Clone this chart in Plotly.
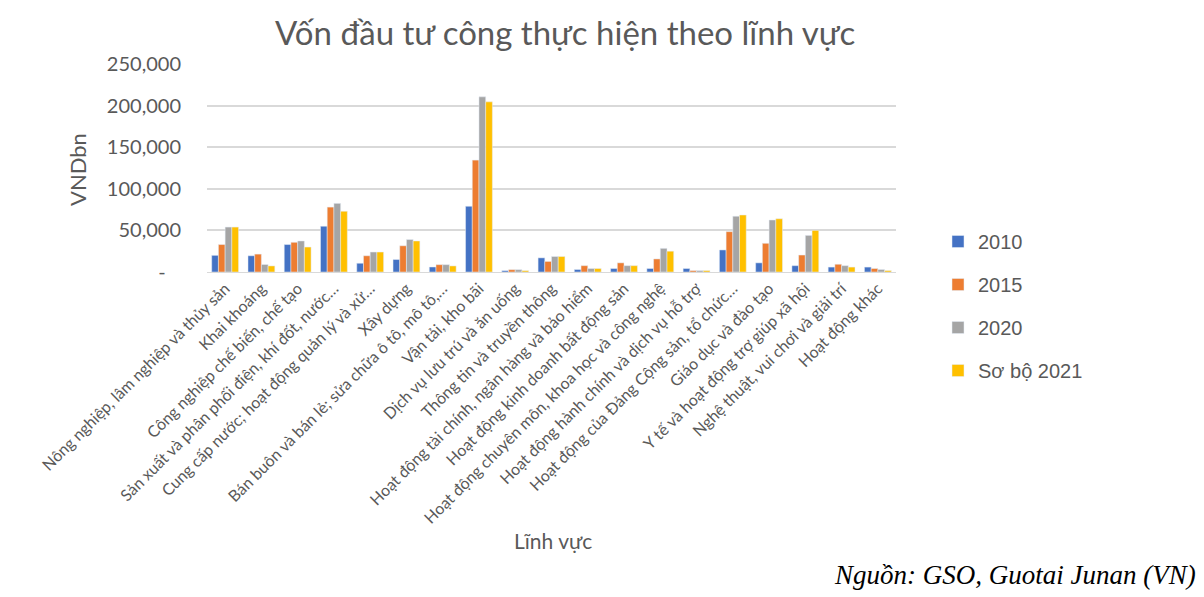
import plotly.graph_objects as go

# Lĩnh vực (19), giá trị VND tỷ
categories = [
    "Nông nghiệp, lâm nghiệp và thủy sản",
    "Khai khoáng",
    "Công nghiệp chế biến, chế tạo",
    "Sản xuất và phân phối điện, khí đốt, nước…",
    "Cung cấp nước; hoạt động quản lý và xử…",
    "Xây dựng",
    "Bán buôn và bán lẻ; sửa chữa ô tô, mô tô,…",
    "Vận tải, kho bãi",
    "Dịch vụ lưu trú và ăn uống",
    "Thông tin và truyền thông",
    "Hoạt động tài chính, ngân hàng và bảo hiểm",
    "Hoạt động kinh doanh bất động sản",
    "Hoạt động chuyên môn, khoa học và công nghệ",
    "Hoạt động hành chính và dịch vụ hỗ trợ",
    "Hoạt động của Đảng Cộng sản, tổ chức…",
    "Giáo dục và đào tạo",
    "Y tế và hoạt động trợ giúp xã hội",
    "Nghệ thuật, vui chơi và giải trí",
    "Hoạt động khác",
]

v2010 = [20000, 19500, 33000, 55000, 10500, 15000, 6000, 79000, 1600, 17000,
         3000, 4200, 4200, 4200, 26500, 11000, 7600, 5900, 5900]
v2015 = [33000, 21500, 35700, 78000, 19500, 31500, 8800, 134500, 2800, 12700,
         7600, 11000, 15700, 1700, 48500, 34500, 20400, 9300, 4200]
v2020 = [54000, 9000, 37300, 82500, 24000, 39000, 8800, 210500, 2800, 18600,
         4200, 7600, 28400, 1700, 67000, 62500, 44000, 7600, 3000]
v2021 = [54000, 7300, 30000, 73000, 24000, 37300, 7300, 204500, 1600, 18600,
         4200, 7600, 25000, 1700, 68500, 64000, 50000, 5900, 1700]

series = [
    ("2010", v2010, "#4472C4"),
    ("2015", v2015, "#ED7D31"),
    ("2020", v2020, "#A5A5A5"),
    ("Sơ bộ 2021", v2021, "#FFC000"),
]

y_ticks = [0, 50000, 100000, 150000, 200000, 250000]
y_ticktext = ["-\u00a0\u00a0\u00a0", "50,000", "100,000", "150,000", "200,000", "250,000"]

# page body adds an 8px offset, so the plot box is placed 8px up/left
L, R, T, B = 199, 888, 56, 264
W, H = R - L, B - T


def px(x, y):
    return (x - 8 - L) / W, (B - (y - 8)) / H


fig = go.Figure()
for name, vals, col in series:
    fig.add_trace(go.Bar(x=categories, y=vals, name=name, marker_color=col,
                         legendgroup=name))

grey = "#595959"
lx, ly = px(938, 222)
fig.update_layout(
    width=1204, height=597,
    margin=dict(l=L, r=1204 - R, t=T, b=597 - B, autoexpand=False),
    paper_bgcolor="white", plot_bgcolor="white",
    barmode="group", bargap=0.26, bargroupgap=0,
    font=dict(family="Lato", color=grey),
    legend=dict(x=lx, xanchor="left", y=ly, yanchor="top",
                font=dict(size=20, color=grey, family="Liberation Sans"),
                tracegroupgap=14, bgcolor="rgba(0,0,0,0)"),
    showlegend=True,
)
fig.update_xaxes(
    tickangle=-45, tickfont=dict(size=16, color=grey),
    showline=True, linecolor="#D9D9D9", linewidth=1,
    showgrid=False, ticks="", automargin=False,
)
fig.update_yaxes(
    range=[0, 250000], tickvals=y_ticks, ticktext=y_ticktext,
    tickfont=dict(size=20, color=grey),
    showgrid=True, gridcolor="#D9D9D9", gridwidth=1.5,
    zeroline=False, ticks="", ticklabelstandoff=25, automargin=False,
)

tx, ty = px(565, 32)
fig.add_annotation(text="Vốn đầu tư công thực hiện theo lĩnh vực",
                   xref="paper", yref="paper", x=tx, y=ty, showarrow=False,
                   xanchor="center", yanchor="middle",
                   font=dict(size=33, color=grey, family="Lato"))
vx, vy = px(77, 170)
fig.add_annotation(text="VNDbn", xref="paper", yref="paper", x=vx, y=vy,
                   showarrow=False, textangle=-90, xanchor="center", yanchor="middle",
                   font=dict(size=22, color=grey, family="Lato"))
hx, hy = px(553, 540)
fig.add_annotation(text="Lĩnh vực", xref="paper", yref="paper", x=hx, y=hy,
                   showarrow=False, xanchor="center", yanchor="middle",
                   font=dict(size=21, color=grey, family="Lato"))
sx, sy = px(1198, 575)
fig.add_annotation(
    text="<i>Nguồn: GSO, Guotai Junan (VN)</i>", xref="paper", yref="paper",
    x=sx, xanchor="right", y=sy, yanchor="middle", showarrow=False,
    font=dict(family="Liberation Serif", size=27, color="black"),
)

fig.write_html("out.html")
